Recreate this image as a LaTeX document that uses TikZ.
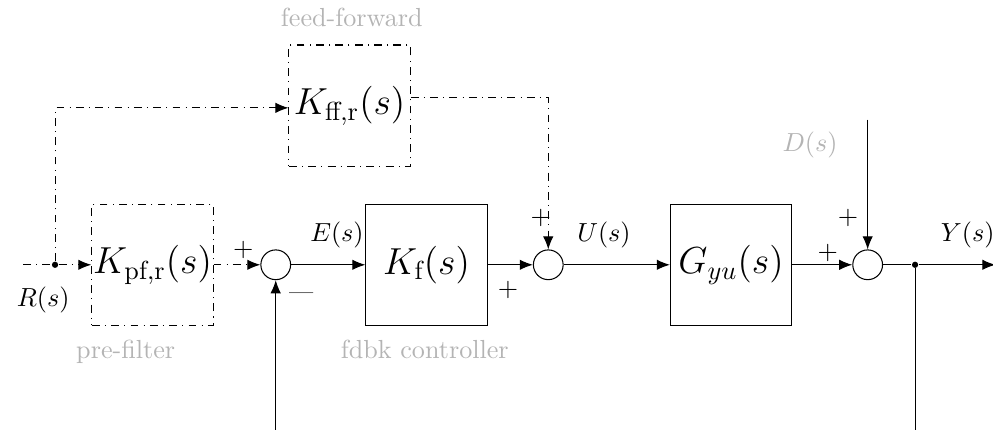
\documentclass[tikz,border=0pt]{standalone}
\usepackage{amsmath}
\usetikzlibrary{positioning,arrows.meta}
\definecolor{notegray}{RGB}{180,180,180}

\begin{document}
\begin{tikzpicture}[auto, >={Latex[length=5pt,width=4pt]},
        block/.style={draw, rectangle, minimum size=1.63cm, inner sep=0pt, font=\Large},
        sumnode/.style={draw, circle, minimum size=0.4cm, inner sep=0pt},
        dotnode/.style={circle, fill, inner sep=0pt, minimum size=2.4pt},
        note/.style={text=notegray}]
        \useasboundingbox (0,-2.22) rectangle (13.35,3.56);
        % main path
        \coordinate (rin) at (0.31,0);
        \node[dotnode] (split) at (0.74,0) {};
        \node[block, dash dot] (prefilt) at (2.05,0) {$K_{\text{pf,r}}(s)$};
        \node[sumnode] (sumE) at ([xshift=0.835cm]prefilt.east) {};
        \node[block] (ctrl) at ([xshift=1.82cm]sumE.east) {$K_{\text{f}}(s)$};
        \node[sumnode] (sumU) at ([xshift=0.815cm]ctrl.east) {};
        \node[block] (plant) at ([xshift=2.25cm]sumU.east) {$G_{yu}(s)$};
        \node[sumnode] (sumY) at ([xshift=1.015cm]plant.east) {};
        \node[dotnode] (branch) at ([xshift=0.43cm]sumY.east) {};
        \coordinate (yout) at ([xshift=1.08cm]branch.center);
        % feed-forward block
        \node[block, dash dot] (ff) at (4.70,2.14) {$K_{\text{ff,r}}(s)$};
        \coordinate (dtop) at (sumY |- 0,1.95);
        \coordinate (fbend) at (branch |- 0,-2.22);
        \coordinate (fbstart) at (sumE |- 0,-2.22);

        \draw[dash dot] (rin) -- (split);
        \draw[dash dot, ->] (split) -- (prefilt);
        \draw[dash dot, ->] (prefilt) -- (sumE);
        \draw[->] (sumE) -- (ctrl);
        \draw[->] (ctrl) -- (sumU);
        \draw[->] (sumU) -- (plant);
        \draw[->] (plant) -- (sumY);
        \draw (sumY) -- (branch);
        \draw[->] (branch) -- (yout);
        \draw[->] (dtop) -- (sumY);
        \draw (branch) -- (fbend);
        \draw[->] (fbstart) -- (sumE);
        \draw[dash dot, ->] (split) |- ([yshift=-0.03cm]ff.west);
        \draw[dash dot, ->] ([yshift=0.11cm]ff.east) -| (sumU);

        % signals and signs
        \node at (0.58,-0.47) {$R(s)$};
        \node at (4.53,0.40) {$E(s)$};
        \node at (8.12,0.40) {$U(s)$};
        \node at (13.01,0.40) {$Y(s)$};
        \node[note] at (10.89,1.61) {$D(s)$};
        \node at (3.27,0.20) {$+$};
        \node at (4.05,-0.42) {\small ---};
        \node at (6.83,-0.34) {$+$};
        \node at (7.27,0.63) {$+$};
        \node at (11.13,0.16) {$+$};
        \node at (11.40,0.63) {$+$};

        % captions
        \node[note] at (1.69,-1.17) {pre-filter};
        \node[note] at (5.71,-1.14) {fdbk controller};
        \node[note] at (4.73,3.32) {feed-forward};
    \end{tikzpicture}
\end{document}
